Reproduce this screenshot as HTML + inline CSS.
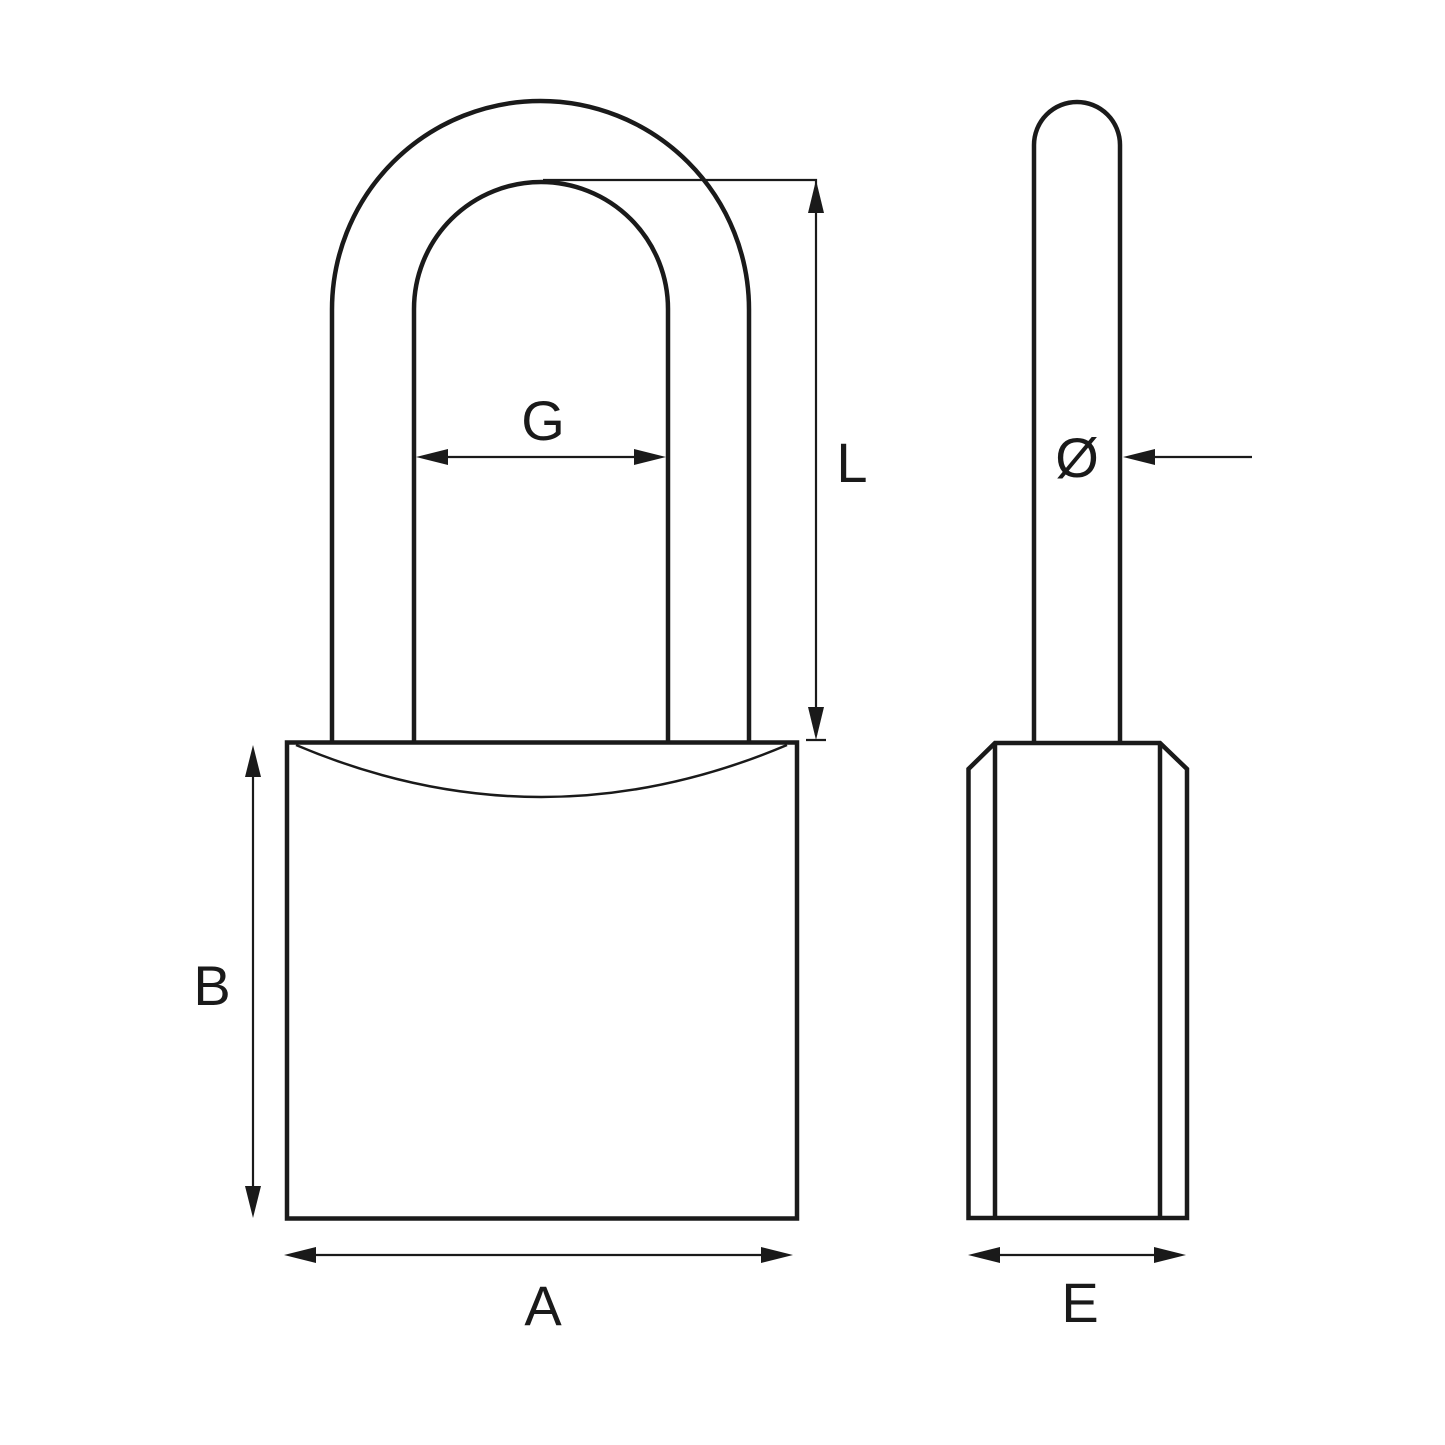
<!DOCTYPE html>
<html><head><meta charset="utf-8"><style>html,body{margin:0;padding:0;background:#fff}svg{display:block}</style></head>
<body>
<svg width="1445" height="1445" viewBox="0 0 1445 1445" xmlns="http://www.w3.org/2000/svg">
<g fill="none" stroke="#1a1a1a" stroke-width="4.5">
<path d="M332,742 V309.5 A208.5,208.5 0 0 1 749,309.5 V742"/>
<path d="M414,742 V309 A127,127 0 0 1 668,309 V742"/>
<rect x="287" y="742.5" width="510" height="476"/>
<path d="M1034,742 V145 A43,43 0 0 1 1120,145 V742"/>
<path d="M995,743 H1160 L1187,769 V1218 H968.5 V769 Z"/>
<path d="M995,743 V1218 M1160,743 V1218"/>
</g>
<path d="M296,745 Q541,849 787,745" fill="none" stroke="#1a1a1a" stroke-width="2.5"/>
<g stroke="#1a1a1a" stroke-width="2.2" fill="none">
<path d="M543,180 H816 V735"/>
<path d="M806,740 H826"/>
<path d="M430,457 H652"/>
<path d="M253,760 V1205"/>
<path d="M300,1255 H780"/>
<path d="M982,1255 H1172"/>
<path d="M1138,457 H1252"/>
</g>
<g fill="#1a1a1a">
<polygon points="816,180 808,213 824,213"/>
<polygon points="816,740 808,707 824,707"/>
<polygon points="416,457 448,449 448,465"/>
<polygon points="666,457 634,449 634,465"/>
<polygon points="253,745 245,777 261,777"/>
<polygon points="253,1218 245,1186 261,1186"/>
<polygon points="284,1255 316,1247 316,1263"/>
<polygon points="793,1255 761,1247 761,1263"/>
<polygon points="968,1255 1000,1247 1000,1263"/>
<polygon points="1186,1255 1154,1247 1154,1263"/>
<polygon points="1123,457 1155,449 1155,465"/>
</g>
<g font-family="Liberation Sans, sans-serif" font-size="56" fill="#1a1a1a" text-anchor="middle">
<text x="543" y="440">G</text>
<text x="852" y="482">L</text>
<text x="212" y="1005">B</text>
<text x="543" y="1325">A</text>
<text x="1080" y="1322">E</text>
<text x="1077" y="477">Ø</text>
</g>
</svg>
</body></html>
